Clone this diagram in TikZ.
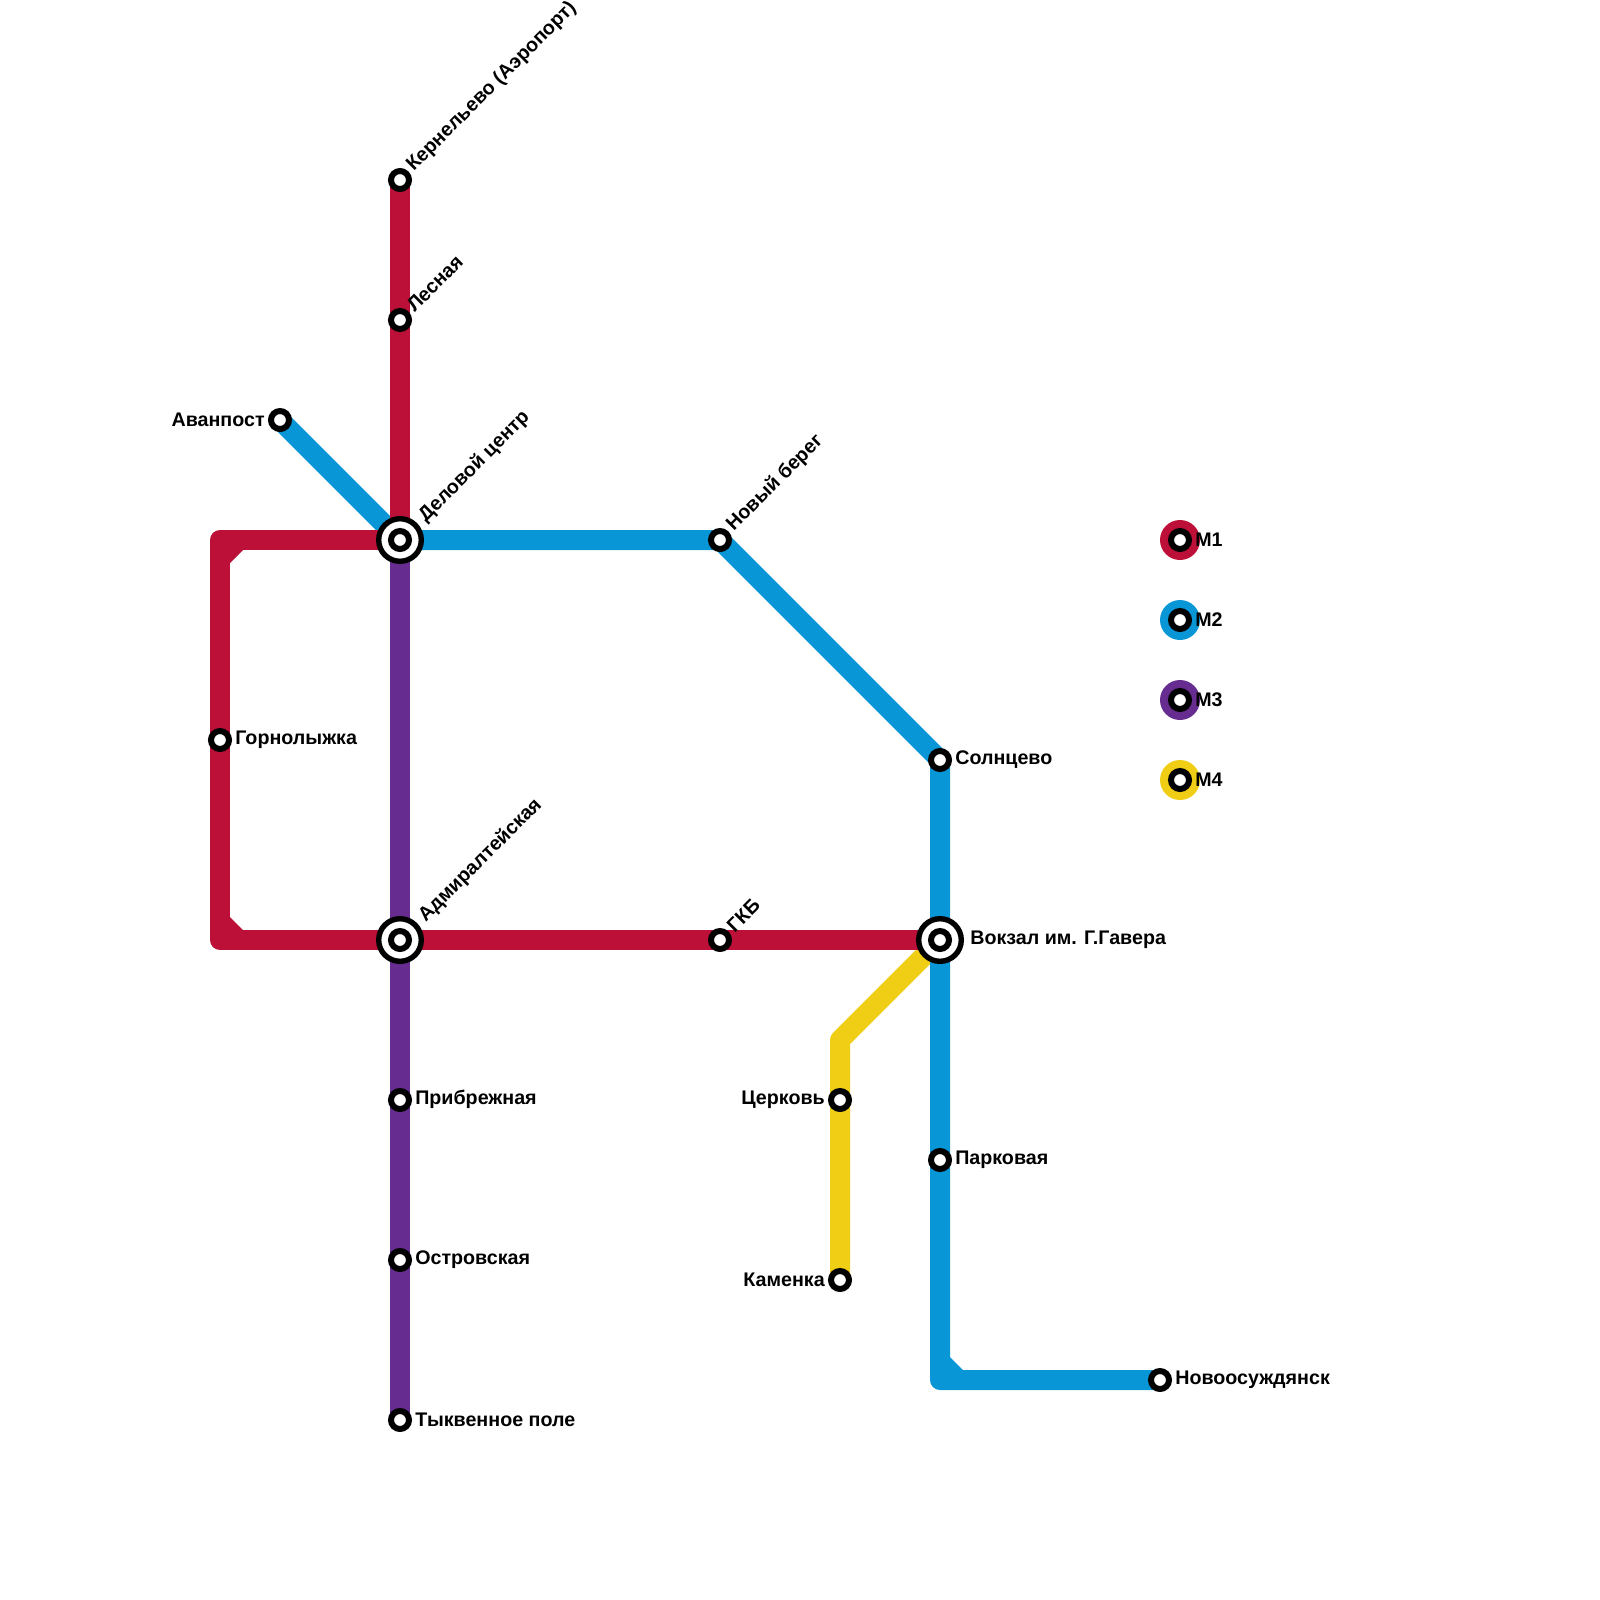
\documentclass[tikz,border=0pt]{standalone}
\usepackage{fontspec}
\setmainfont{Liberation Sans}
\usetikzlibrary{positioning,backgrounds}

\definecolor{mred}{HTML}{BD1038}
\definecolor{mblue}{HTML}{0896D7}
\definecolor{mpurple}{HTML}{662C90}
\definecolor{myellow}{HTML}{F0CE15}

\tikzset{
  stn/.style={circle, draw=black, fill=white, line width=0.15cm, minimum size=0.45cm, inner sep=0pt, outer sep=0pt},
  hub/.style={circle, draw=black, fill=white, line width=0.135cm, minimum size=1.065cm, inner sep=0pt, outer sep=0pt},
  legdisc/.style={circle, fill=#1, minimum size=1cm, inner sep=0pt, outer sep=0pt},
  track/.style={line width=0.5cm, line join=round, line cap=round, color=#1},
  txt/.style={font=\bfseries\fontsize{14}{16}\selectfont, inner sep=0pt, text=black},
  txtr/.style={txt, anchor=west},
  txtl/.style={txt, anchor=east},
  txtd/.style={txt, anchor=west, rotate=45},
}

\begin{document}
\begin{tikzpicture}[x=0.5cm, y=-0.5cm]
  \useasboundingbox (0,0) rectangle (80,80);

  % Stationen
  \node[stn] (kern) at (20, 9) {};
  \node[stn] (les)  at (20,16) {};
  \node[stn] (avan) at (14,21) {};
  \node[hub] (dc)   at (20,27) {};
  \node[stn] (dci)  at (20,27) {};
  \node[stn] (nb)   at (36,27) {};
  \node[stn] (gorn) at (11,37) {};
  \node[stn] (soln) at (47,38) {};
  \node[hub] (adm)  at (20,47) {};
  \node[stn] (admi) at (20,47) {};
  \node[stn] (gkb)  at (36,47) {};
  \node[hub] (vok)  at (47,47) {};
  \node[stn] (voki) at (47,47) {};
  \node[stn] (prib) at (20,55) {};
  \node[stn] (cerk) at (42,55) {};
  \node[stn] (park) at (47,58) {};
  \node[stn] (ostr) at (20,63) {};
  \node[stn] (kam)  at (42,64) {};
  \node[stn] (novo) at (58,69) {};
  \node[stn] (tykv) at (20,71) {};

  % Knickpunkte
  \coordinate (redtop) at (11,27);
  \coordinate (redbot) at (11,47);
  \coordinate (bluebot) at (47,69);
  \coordinate (yelbend) at (42,52);

  % Linien
  \begin{scope}[on background layer]
    \draw[track=myellow] (vok.center) -- (yelbend) -- (kam.center);
    \draw[track=mblue] (avan.center) -- (dc.center) -- (nb.center) -- (soln.center)
      -- (bluebot) -- (novo.center);
    \fill[mblue] (47.5,68.5) -- +(0.65,0) -- +(0,-0.65) -- cycle;
    \draw[track=mred] (kern.center) -- (dc.center) -- (redtop) -- (redbot)
      -- (vok.center);
    \fill[mred] (11.5,27.5) -- +(0.65,0) -- +(0,0.65) -- cycle;
    \fill[mred] (11.5,46.5) -- +(0.65,0) -- +(0,-0.65) -- cycle;
    \draw[track=mpurple] (dc.center) -- (tykv.center);
  \end{scope}

  % Beschriftung
  \node[txtd] (kernt) at ([shift={(0.5,-0.58)}]kern.center) {Кернельево (Аэропорт)};
  \node[txtd] (lest)  at ([shift={(0.5,-0.58)}]les.center) {Лесная};
  \node[txtd] (dct)   at ([shift={(1.1,-1.05)}]dc.center) {Деловой центр};
  \node[txtd] (nbt)   at ([shift={(0.5,-0.58)}]nb.center) {Новый берег};
  \node[txtd] (admt)  at ([shift={(1.1,-1.05)}]adm.center) {Адмиралтейская};
  \node[txtd] (gkbt)  at ([shift={(0.5,-0.58)}]gkb.center) {ГКБ};
  \node[txtl] (avant) at ([shift={(-0.75,-0.03)}]avan.center) {Аванпост};
  \node[txtr] (gornt) at ([shift={(0.75,-0.03)}]gorn.center) {Горнолыжка};
  \node[txtr] (solnt) at ([shift={(0.75,-0.03)}]soln.center) {Солнцево};
  \node[txtr] (vokt)  at ([shift={(1.5,-0.03)}]vok.center) {Вокзал им. Г.Гавера};
  \node[txtr] (pribt) at ([shift={(0.75,-0.03)}]prib.center) {Прибрежная};
  \node[txtl] (cerkt) at ([shift={(-0.75,-0.03)}]cerk.center) {Церковь};
  \node[txtr] (parkt) at ([shift={(0.75,-0.03)}]park.center) {Парковая};
  \node[txtr] (ostrt) at ([shift={(0.75,-0.03)}]ostr.center) {Островская};
  \node[txtl] (kamt)  at ([shift={(-0.75,-0.03)}]kam.center) {Каменка};
  \node[txtr] (novot) at ([shift={(0.75,-0.03)}]novo.center) {Новоосуждянск};
  \node[txtr] (tykvt) at ([shift={(0.75,-0.03)}]tykv.center) {Тыквенное поле};

  % Legende
  \foreach \nm/\col/\yy in {1/mred/27, 2/mblue/31, 3/mpurple/35, 4/myellow/39}{
    \node[legdisc=\col] (disc\nm) at (59,\yy) {};
    \node[stn] (leg\nm) at (disc\nm) {};
    \node[txtr] (legt\nm) at ([shift={(0.75,-0.03)}]leg\nm.center) {М\nm};
  }
\end{tikzpicture}
\end{document}
